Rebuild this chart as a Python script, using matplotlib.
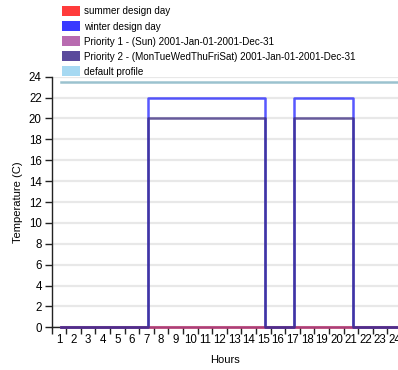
import numpy as np
from matplotlib import pyplot as plt
from matplotlib.patches import Patch

plt.rcParams['font.family'] = ['Liberation Sans', 'DejaVu Sans']

hours = list(range(1, 25))
summer = [0] * 24
winter = [0] * 6 + [22] * 8 + [0] * 2 + [22] * 4 + [0] * 4
priority1 = [0] * 24
priority2 = [0] * 6 + [20] * 8 + [0] * 2 + [20] * 4 + [0] * 4
default = [23.5] * 24

names = ['summer design day', 'winter design day',
         'Priority 1 - (Sun) 2001-Jan-01-2001-Dec-31',
         'Priority 2 - (MonTueWedThuFriSat) 2001-Jan-01-2001-Dec-31',
         'default profile']
patch_colors = ['#ff3b3b', '#3a3aff', '#b86bb0', '#5a4a9c', '#a6d9f2']
line_colors = ['#ff2020', '#2020ff', '#a04a9a', '#3a2a80', '#7aaebf']
series = [summer, winter, priority1, priority2, default]

fig = plt.figure(figsize=(3.98, 3.70), dpi=100)
ax = fig.add_axes([51.5 / 398, (370 - 327.3) / 370, 1 - 51.5 / 398, 250.6 / 370])

for vals, c in zip(series, line_colors):
    ax.plot(hours, vals, drawstyle='steps-post', color=c, lw=1.8, alpha=0.75,
            clip_on=False, zorder=3)

ax.set_xlim(0.37, 24.1)
ax.set_ylim(0, 24)

# labels sit on the hour, tick marks between
ax.set_xticks(np.array(hours) - 0.12)
ax.set_xticklabels([str(h) for h in hours], fontsize=8.3)
ax.tick_params(axis='x', which='major', length=0, pad=5)
ax.set_xticks(list(np.array(hours[:-1]) + 0.38) + [0.37], minor=True)
ax.tick_params(axis='x', which='minor', length=5, width=1, color='#222222')

ax.set_yticks(range(0, 25, 2))
ax.tick_params(axis='y', labelsize=8.3, length=5, width=1, color='#222222', pad=2)
ax.grid(axis='y', color='#e8e8e8', lw=1.6)
ax.set_axisbelow(True)

for s in ['top', 'right']:
    ax.spines[s].set_visible(False)
for s in ['left', 'bottom']:
    ax.spines[s].set_color('#222222')
    ax.spines[s].set_linewidth(1)

ax.set_xlabel('Hours', fontsize=8, labelpad=6)
ax.set_ylabel('Temperature (C)', fontsize=8, labelpad=4)

handles = [Patch(facecolor=c, edgecolor='none') for c in patch_colors]
fig.legend(handles, names, loc='upper left', bbox_to_anchor=(56 / 398, 1.0),
           frameon=False, fontsize=7.1, handlelength=1.8, handleheight=1.1,
           handletextpad=0.35, labelspacing=0.5, borderaxespad=0.25)

fig.savefig('out.png', dpi=100)
